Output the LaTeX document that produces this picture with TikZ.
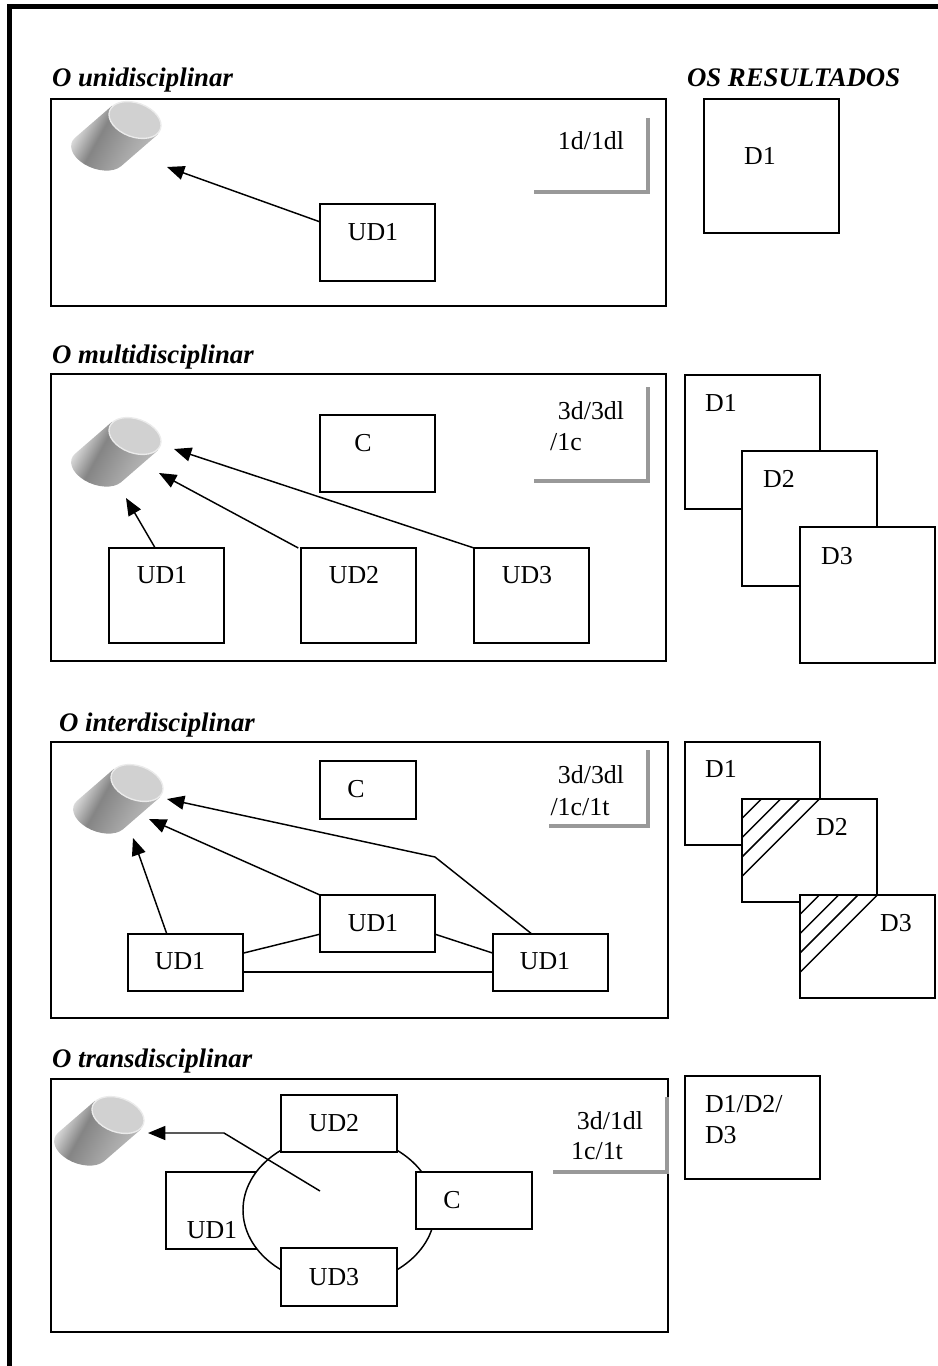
\documentclass[tikz,border=0pt]{standalone}
\usepackage{fontspec}
\setmainfont{Liberation Serif}
\usetikzlibrary{arrows.meta,shapes.geometric}

\begin{document}
\begin{tikzpicture}[
    x=0.75pt,y=-0.75pt,
    every node/.style={inner sep=0pt,outer sep=0pt},
    panel/.style 2 args={draw,line width=1.2pt,anchor=north west,minimum width=#1*0.75pt,minimum height=#2*0.75pt},
    obj/.style 2 args={draw,fill=white,line width=1.1pt,anchor=north west,minimum width=#1*0.75pt,minimum height=#2*0.75pt},
    lab/.style={anchor=base,font=\fontsize{19.4}{22}\selectfont},
    ttl/.style={anchor=base west,font=\fontsize{20.1}{23}\selectfont\bfseries\itshape},
    arr/.style={-{Triangle[length=13pt,width=10.5pt]},line width=1.1pt},
    lnk/.style={line width=1.1pt},
    corner/.style={draw=black!40,line width=2.4pt},
    drum/.pic={
        \begin{scope}[rotate=-20]
        \shade[shading=drumshade,shading angle=-29] (-26.5,-5.45) -- ++(-23.8,42.7)
            arc[start angle=198.7,end angle=18.7,x radius=28,y radius=17] -- (26.5,5.45) -- cycle;
        \draw[draw=black!8,fill=black!18,line width=1pt] (0,0) ellipse [x radius=27,y radius=17];
        \end{scope}
    }
]
\pgfdeclarehorizontalshading{drumshade}{100bp}{color(0bp)=(black!10);color(27bp)=(black!10);color(42bp)=(black!48);color(62bp)=(black!34);color(75bp)=(black!26);color(100bp)=(black!26)}
\useasboundingbox (0,0) rectangle (938,1366);
\draw[line width=3.75pt] (9.5,1366) -- (9.5,6.5) -- (938,6.5);

\node[ttl] (uniT) at (52,87) {O unidisciplinar};
\node[ttl] (resT) at (687,87) {OS RESULTADOS};
\node[panel={615}{207}] (uni) at (51,99) {};
\pic at (135,120) {drum};
\draw[corner] (648,118) -- (648,192) -- (534,192);
\node[lab] (uniN) at (591,150) {1d/1dl};
\node[obj={115}{77}] (uniUD) at (320,204) {};
\node[lab] (uniUDt) at (373,240) {UD1};
\coordinate (uniTip) at (167,167);
\draw[arr] (uniUD) -- (uniTip);
\node[obj={135}{134}] (uniD) at (704,99) {};
\node[lab] (uniDt) at (760,165) {D1};

\node[ttl] (mulT) at (52,363) {O multidisciplinar};
\node[panel={615}{287}] (mul) at (51,374) {};
\pic at (135,436) {drum};
\draw[corner] (648,387) -- (648,481) -- (534,481);
\node[lab] (mulNa) at (591,419) {3d/3dl};
\node[lab] (mulNb) at (566,450) {/1c};
\node[obj={115}{77}] (mulC) at (320,415) {};
\node[lab] (mulCt) at (363,451) {C};
\node[obj={115}{95}] (mulA) at (109,548) {};
\node[obj={115}{95}] (mulB) at (301,548) {};
\node[obj={115}{95}] (mulE) at (474,548) {};
\node[lab] (mulAt) at (162,583) {UD1};
\node[lab] (mulBt) at (354,583) {UD2};
\node[lab] (mulEt) at (527,583) {UD3};
\coordinate (mulTa) at (126,498);
\coordinate (mulTb) at (159,473);
\coordinate (mulTe) at (174,449);
\draw[arr] ([xshift=-8.5pt]mulA.north) -- (mulTa);
\draw[arr] ([xshift=-2pt]mulB.north west) -- (mulTb);
\draw[arr] (mulE.north west) -- (mulTe);
\node[obj={135}{134}] (mulD1) at (685,375) {};
\node[lab] (mulD1t) at (721,411) {D1};
\node[obj={135}{135}] (mulD2) at (742,451) {};
\node[lab] (mulD2t) at (779,487) {D2};
\node[obj={135}{136}] (mulD3) at (800,527) {};
\node[lab] (mulD3t) at (837,564) {D3};

\node[ttl] (intT) at (59,731) {O interdisciplinar};
\node[panel={617}{276}] (int) at (51,742) {};
\pic at (137,783) {drum};
\draw[corner] (648,750) -- (648,826) -- (549,826);
\node[lab] (intNa) at (591,783) {3d/3dl};
\node[lab] (intNb) at (580,815) {/1c/1t};
\node[obj={96}{58}] (intC) at (320,761) {};
\node[lab] (intCt) at (356,797) {C};
\node[obj={115}{57}] (intM) at (320,895) {};
\node[obj={115}{57}] (intL) at (128,934) {};
\node[obj={115}{57}] (intR) at (493,934) {};
\node[lab] (intMt) at (373,931) {UD1};
\node[lab] (intLt) at (180,969) {UD1};
\node[lab] (intRt) at (545,969) {UD1};
\draw[lnk] ([yshift=7pt]intL.east) -- ([yshift=-8pt]intM.west);
\draw[lnk] ([yshift=-8pt]intM.east) -- ([yshift=7pt]intR.west);
\draw[lnk] ([yshift=-7pt]intL.east) -- ([yshift=-7pt]intR.west);
\coordinate (intTa) at (133,838);
\coordinate (intTb) at (149,819);
\coordinate (intTe) at (167,799);
\coordinate (intBend) at (435,857);
\draw[arr] ([xshift=-14pt]intL.north) -- (intTa);
\draw[arr] (intM.north west) -- (intTb);
\draw[arr] ([xshift=-14pt]intR.north) -- (intBend) -- (intTe);
\node[obj={135}{103}] (intD1) at (685,742) {};
\node[lab] (intD1t) at (721,777) {D1};
\node[obj={135}{103}] (intD2) at (742,799) {};
\node[lab] (intD2t) at (832,835) {D2};
\node[obj={135}{103}] (intD3) at (800,895) {};
\node[lab] (intD3t) at (896,931) {D3};
\foreach \k in {1,...,4} {
    \draw[lnk] ([xshift=14.5*\k pt]intD2.north west) -- ([yshift=-14.5*\k pt]intD2.north west);
    \draw[lnk] ([xshift=14.5*\k pt]intD3.north west) -- ([yshift=-14.5*\k pt]intD3.north west);
}

\node[ttl] (traT) at (52,1067) {O transdisciplinar};
\node[panel={617}{253}] (tra) at (51,1079) {};
\pic at (118,1115) {drum};
\draw[corner] (667,1097) -- (667,1172) -- (553,1172);
\node[lab] (traNa) at (610,1129) {3d/1dl};
\node[lab] (traNb) at (597,1159) {1c/1t};
\node[obj={115}{77}] (traA) at (166,1172) {};
\node[ellipse,draw,fill=white,line width=1.1pt,minimum width=144pt,minimum height=112.5pt] (ring) at (339,1210) {};
\node[obj={116}{57}] (traB) at (281,1095) {};
\node[obj={116}{58}] (traE) at (281,1248) {};
\node[obj={116}{57}] (traC) at (416,1172) {};
\node[lab] (traAt) at (212,1238) {UD1};
\node[lab] (traBt) at (334,1131) {UD2};
\node[lab] (traEt) at (334,1285) {UD3};
\node[lab] (traCt) at (452,1208) {C};
\coordinate (traS) at (320,1191);
\coordinate (traBend) at (224,1133);
\coordinate (traTip) at (148,1133);
\draw[arr] (traS) -- (traBend) -- (traTip);
\node[obj={135}{103}] (traD) at (685,1076) {};
\node[lab,anchor=base west] (traDa) at (705,1112) {D1/D2/};
\node[lab,anchor=base west] (traDb) at (705,1143) {D3};
\end{tikzpicture}
\end{document}
